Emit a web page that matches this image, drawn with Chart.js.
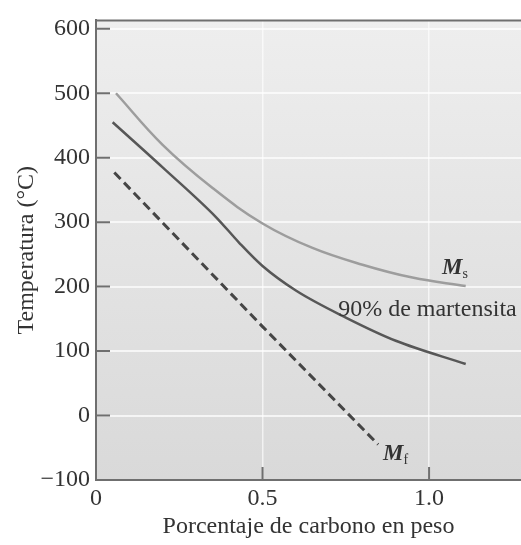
<!DOCTYPE html>
<html>
<head>
<meta charset="utf-8">
<script src="https://cdn.jsdelivr.net/npm/chart.js@4.4.0/dist/chart.umd.min.js"></script>
<style>
    html, body { margin: 0; padding: 0; background: #fff; }
</style>
</head>
<body>
<canvas id="grafico" width="521" height="545"></canvas>
<script>
// --- Datos: temperatura (°C) frente a % de carbono ---
const carbonoMs = [0.06, 0.2, 0.35, 0.5, 0.65, 0.8, 0.95, 1.11];
const tempMs    = [500, 420, 353, 298, 260, 234, 214, 201];

const carbono90 = [0.05, 0.2, 0.36, 0.43, 0.5, 0.6, 0.75, 0.9, 1.11];
const temp90    = [455, 385, 308, 268, 232, 194, 152, 116, 80];

const carbonoMf = [0.055, 0.5, 0.847];
const tempMf    = [377, 138, -45];

const ticksX = [0, 0.5, 1.0];
const etiquetasX = ['0', '0.5', '1.0'];
const ticksY = [-100, 0, 100, 200, 300, 400, 500, 600];
const etiquetasY = ['\u2212100', '0', '100', '200', '300', '400', '500', '600'];

const fuente = '"Liberation Serif", "Times New Roman", serif';
const colorEje = '#6f6f6f';
const colorTexto = '#333333';

Chart.defaults.font.family = fuente;
Chart.defaults.font.size = 24;
Chart.defaults.color = colorTexto;

function puntos(xs, ys) {
    return xs.map((x, i) => ({ x: x, y: ys[i] }));
}

// --- Fondo degradado, marco superior, marcas interiores y rótulos de curvas ---
const marcoPlugin = {
    id: 'marco',
    beforeDraw(chart) {
        const { ctx, chartArea: a } = chart;
        const g = ctx.createLinearGradient(0, a.top, 0, a.bottom);
        g.addColorStop(0, '#eeeeee');
        g.addColorStop(1, '#d9d9d9');
        ctx.save();
        ctx.fillStyle = g;
        ctx.fillRect(a.left, a.top, a.right - a.left, a.bottom - a.top);
        ctx.restore();
    },
    afterDraw(chart) {
        const { ctx, chartArea: a, scales } = chart;
        const sx = scales.x, sy = scales.y;
        ctx.save();
        ctx.strokeStyle = colorEje;
        ctx.lineWidth = 2;
        // borde superior
        ctx.beginPath();
        ctx.moveTo(a.left - 1, a.top);
        ctx.lineTo(a.right, a.top);
        ctx.stroke();
        // marcas hacia dentro
        ctx.beginPath();
        ticksY.forEach(v => {
            const y = sy.getPixelForValue(v);
            ctx.moveTo(a.left, y);
            ctx.lineTo(a.left + 14, y);
        });
        ticksX.slice(1).forEach(v => {
            const x = sx.getPixelForValue(v);
            ctx.moveTo(x, a.bottom);
            ctx.lineTo(x, a.bottom - 13);
        });
        ctx.stroke();

        // rótulos de las curvas
        ctx.fillStyle = colorTexto;
        ctx.textBaseline = 'alphabetic';
        ctx.textAlign = 'left';
        function rotuloM(sub, cx, cy) {
            const x = sx.getPixelForValue(cx), y = sy.getPixelForValue(cy);
            ctx.font = 'italic bold 23px ' + fuente;
            ctx.fillText('M', x, y);
            const w = ctx.measureText('M').width;
            ctx.font = '14px ' + fuente;
            ctx.fillText(sub, x + w, y + 4);
        }
        rotuloM('s', 1.039, 219);
        rotuloM('f', 0.862, -69);
        ctx.font = '24px ' + fuente;
        ctx.fillText('90% de martensita', sx.getPixelForValue(0.727), sy.getPixelForValue(154));
        ctx.restore();
    }
};

new Chart(document.getElementById('grafico'), {
    type: 'scatter',
    data: {
        datasets: [
            {
                label: 'Ms',
                data: puntos(carbonoMs, tempMs),
                showLine: true,
                borderColor: '#9d9d9d',
                borderWidth: 2.5,
                pointRadius: 0,
                tension: 0.4
            },
            {
                label: '90% de martensita',
                data: puntos(carbono90, temp90),
                showLine: true,
                borderColor: '#575757',
                borderWidth: 2.5,
                pointRadius: 0,
                cubicInterpolationMode: 'monotone'
            },
            {
                label: 'Mf',
                data: puntos(carbonoMf, tempMf),
                showLine: true,
                borderColor: '#454545',
                borderWidth: 3,
                borderDash: [9, 5],
                pointRadius: 0
            }
        ]
    },
    plugins: [marcoPlugin],
    options: {
        responsive: false,
        animation: false,
        layout: { padding: { top: 7, right: 0, left: 0, bottom: 0 } },
        plugins: {
            legend: { display: false },
            tooltip: { enabled: false }
        },
        scales: {
            x: {
                type: 'linear',
                min: 0,
                max: 1.276,
                afterBuildTicks: s => { s.ticks = ticksX.map(v => ({ value: v })); },
                afterFit: s => { s.height = 65; },
                ticks: {
                    includeBounds: false,
                    padding: 4,
                    maxRotation: 0,
                    color: colorTexto,
                    callback: v => etiquetasX[ticksX.indexOf(v)]
                },
                grid: { color: 'rgba(255,255,255,0.65)', lineWidth: 1.5, drawTicks: false },
                border: { color: colorEje, width: 2 },
                title: {
                    display: true,
                    text: 'Porcentaje de carbono en peso',
                    color: colorTexto,
                    font: { size: 24 },
                    padding: { top: 0, bottom: 4 }
                }
            },
            y: {
                type: 'linear',
                min: -100,
                max: 613,
                afterBuildTicks: s => { s.ticks = ticksY.map(v => ({ value: v })); },
                afterFit: s => { s.width = 96; },
                ticks: {
                    includeBounds: false,
                    padding: 6,
                    color: colorTexto,
                    callback: v => etiquetasY[ticksY.indexOf(v)]
                },
                grid: { color: 'rgba(255,255,255,0.7)', lineWidth: 2, drawTicks: false },
                border: { color: colorEje, width: 2 },
                title: {
                    display: true,
                    text: 'Temperatura (°C)',
                    color: colorTexto,
                    font: { size: 24 },
                    padding: { top: 12, bottom: 0 }
                }
            }
        }
    }
});
</script>
</body>
</html>
